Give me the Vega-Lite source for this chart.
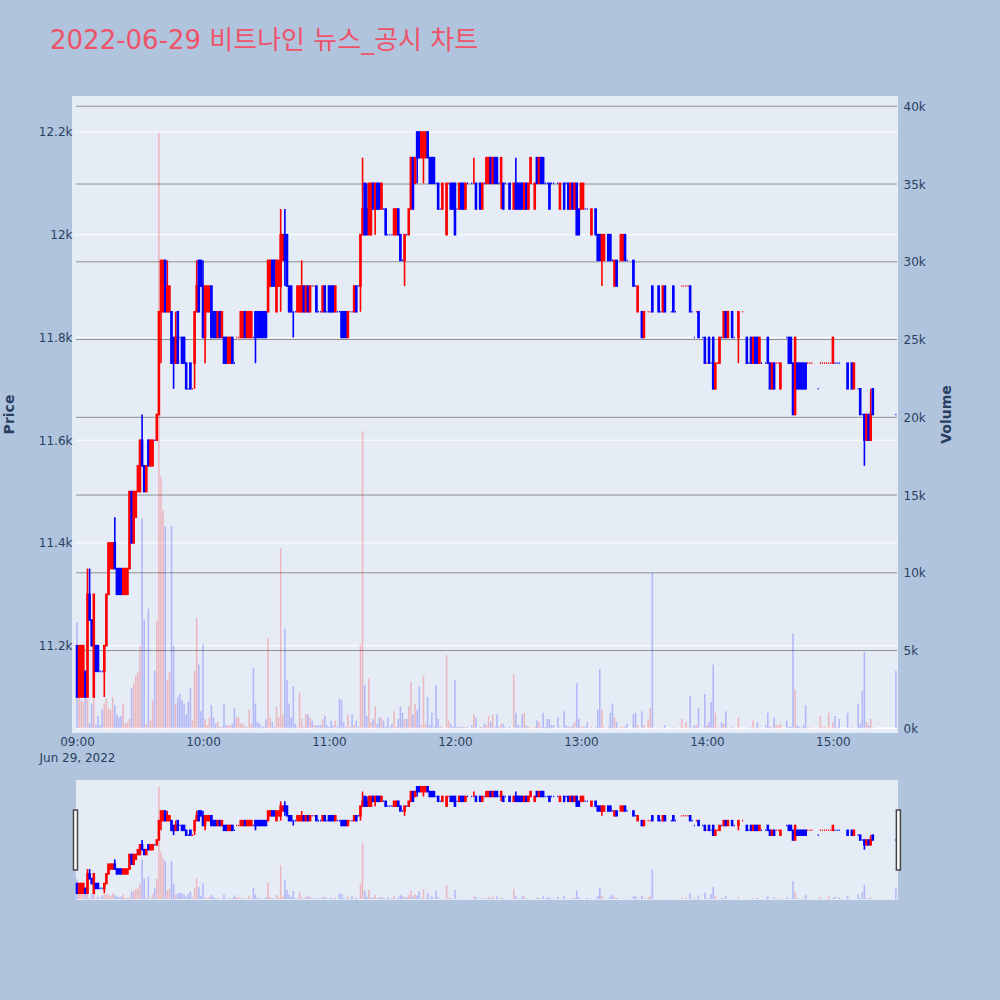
{"$schema":"https://vega.github.io/schema/vega-lite/v6.json","autosize":{"type":"none"},"padding":{"left":72,"top":96,"right":928,"bottom":904},"background":"#b0c4de","bounds":"flush","spacing":47,"config":{"font":"DejaVu Sans","view":{"stroke":null},"axis":{"labelFont":"DejaVu Sans","titleFont":"DejaVu Sans","labelColor":"#2a3f5f","titleColor":"#2a3f5f"}},
"datasets":{"bars":[
{"t":"2022-06-29 09:00","o":11200,"h":11200,"l":11100,"c":11100,"v":6800,"s":"d"},
{"t":"2022-06-29 09:01","o":11100,"h":11200,"l":11100,"c":11200,"v":2200,"s":"u"},
{"t":"2022-06-29 09:02","o":11100,"h":11200,"l":11100,"c":11200,"v":1800,"s":"u"},
{"t":"2022-06-29 09:03","o":11100,"h":11200,"l":11100,"c":11200,"v":1700,"s":"u"},
{"t":"2022-06-29 09:04","o":11150,"h":11150,"l":11100,"c":11100,"v":2000,"s":"d"},
{"t":"2022-06-29 09:05","o":11100,"h":11350,"l":11100,"c":11300,"v":1900,"s":"u"},
{"t":"2022-06-29 09:06","o":11300,"h":11350,"l":11250,"c":11250,"v":300,"s":"d"},
{"t":"2022-06-29 09:07","o":11250,"h":11250,"l":11200,"c":11200,"v":1600,"s":"d"},
{"t":"2022-06-29 09:08","o":11100,"h":11300,"l":11100,"c":11300,"v":2000,"s":"u"},
{"t":"2022-06-29 09:09","o":11200,"h":11200,"l":11150,"c":11150,"v":200,"s":"d"},
{"t":"2022-06-29 09:10","o":11200,"h":11200,"l":11150,"c":11150,"v":800,"s":"d"},
{"t":"2022-06-29 09:11","o":11150,"h":11150,"l":11150,"c":11150,"v":200,"s":"d"},
{"t":"2022-06-29 09:12","o":11150,"h":11150,"l":11150,"c":11150,"v":1200,"s":"d"},
{"t":"2022-06-29 09:13","o":11150,"h":11200,"l":11100,"c":11200,"v":1600,"s":"u"},
{"t":"2022-06-29 09:14","o":11200,"h":11300,"l":11200,"c":11300,"v":1900,"s":"u"},
{"t":"2022-06-29 09:15","o":11300,"h":11400,"l":11300,"c":11400,"v":1300,"s":"u"},
{"t":"2022-06-29 09:16","o":11350,"h":11400,"l":11350,"c":11400,"v":1200,"s":"u"},
{"t":"2022-06-29 09:17","o":11350,"h":11400,"l":11350,"c":11400,"v":2000,"s":"u"},
{"t":"2022-06-29 09:18","o":11400,"h":11450,"l":11350,"c":11350,"v":1500,"s":"d"},
{"t":"2022-06-29 09:19","o":11350,"h":11350,"l":11300,"c":11300,"v":900,"s":"d"},
{"t":"2022-06-29 09:20","o":11350,"h":11350,"l":11300,"c":11300,"v":700,"s":"d"},
{"t":"2022-06-29 09:21","o":11350,"h":11350,"l":11300,"c":11300,"v":800,"s":"d"},
{"t":"2022-06-29 09:22","o":11300,"h":11350,"l":11300,"c":11350,"v":1600,"s":"u"},
{"t":"2022-06-29 09:23","o":11300,"h":11350,"l":11300,"c":11350,"v":300,"s":"u"},
{"t":"2022-06-29 09:24","o":11300,"h":11350,"l":11300,"c":11350,"v":400,"s":"u"},
{"t":"2022-06-29 09:25","o":11350,"h":11500,"l":11350,"c":11500,"v":600,"s":"u"},
{"t":"2022-06-29 09:26","o":11500,"h":11500,"l":11400,"c":11400,"v":2600,"s":"d"},
{"t":"2022-06-29 09:27","o":11400,"h":11500,"l":11400,"c":11500,"v":2900,"s":"u"},
{"t":"2022-06-29 09:28","o":11450,"h":11500,"l":11450,"c":11500,"v":3400,"s":"u"},
{"t":"2022-06-29 09:29","o":11500,"h":11550,"l":11500,"c":11550,"v":3600,"s":"u"},
{"t":"2022-06-29 09:30","o":11500,"h":11600,"l":11500,"c":11600,"v":5300,"s":"u"},
{"t":"2022-06-29 09:31","o":11600,"h":11650,"l":11550,"c":11550,"v":13500,"s":"d"},
{"t":"2022-06-29 09:32","o":11550,"h":11550,"l":11500,"c":11500,"v":7000,"s":"d"},
{"t":"2022-06-29 09:33","o":11500,"h":11550,"l":11500,"c":11550,"v":300,"s":"u"},
{"t":"2022-06-29 09:34","o":11550,"h":11600,"l":11550,"c":11600,"v":7700,"s":"d"},
{"t":"2022-06-29 09:35","o":11550,"h":11600,"l":11550,"c":11600,"v":500,"s":"u"},
{"t":"2022-06-29 09:36","o":11550,"h":11600,"l":11550,"c":11600,"v":1800,"s":"u"},
{"t":"2022-06-29 09:37","o":11600,"h":11600,"l":11600,"c":11600,"v":3700,"s":"d"},
{"t":"2022-06-29 09:38","o":11600,"h":11650,"l":11600,"c":11650,"v":6900,"s":"u"},
{"t":"2022-06-29 09:39","o":11650,"h":11850,"l":11650,"c":11850,"v":38300,"s":"u"},
{"t":"2022-06-29 09:40","o":11850,"h":11950,"l":11750,"c":11950,"v":16200,"s":"u"},
{"t":"2022-06-29 09:41","o":11850,"h":11950,"l":11850,"c":11950,"v":14000,"s":"u"},
{"t":"2022-06-29 09:42","o":11950,"h":11950,"l":11850,"c":11850,"v":13000,"s":"d"},
{"t":"2022-06-29 09:43","o":11850,"h":11950,"l":11850,"c":11900,"v":3100,"s":"u"},
{"t":"2022-06-29 09:44","o":11850,"h":11900,"l":11850,"c":11900,"v":3600,"s":"u"},
{"t":"2022-06-29 09:45","o":11850,"h":11850,"l":11750,"c":11750,"v":13000,"s":"d"},
{"t":"2022-06-29 09:46","o":11800,"h":11800,"l":11700,"c":11750,"v":5300,"s":"d"},
{"t":"2022-06-29 09:47","o":11750,"h":11850,"l":11750,"c":11800,"v":1600,"s":"u"},
{"t":"2022-06-29 09:48","o":11850,"h":11850,"l":11750,"c":11750,"v":2000,"s":"d"},
{"t":"2022-06-29 09:49","o":11800,"h":11800,"l":11800,"c":11800,"v":2200,"s":"d"},
{"t":"2022-06-29 09:50","o":11800,"h":11800,"l":11750,"c":11750,"v":1800,"s":"d"},
{"t":"2022-06-29 09:51","o":11800,"h":11800,"l":11750,"c":11750,"v":1600,"s":"d"},
{"t":"2022-06-29 09:52","o":11750,"h":11750,"l":11700,"c":11700,"v":900,"s":"d"},
{"t":"2022-06-29 09:53","o":11700,"h":11700,"l":11700,"c":11700,"v":1700,"s":"d"},
{"t":"2022-06-29 09:54","o":11750,"h":11750,"l":11700,"c":11700,"v":2600,"s":"d"},
{"t":"2022-06-29 09:55","o":11700,"h":11700,"l":11700,"c":11700,"v":500,"s":"u"},
{"t":"2022-06-29 09:56","o":11750,"h":11850,"l":11700,"c":11850,"v":3700,"s":"u"},
{"t":"2022-06-29 09:57","o":11850,"h":11950,"l":11850,"c":11900,"v":7100,"s":"u"},
{"t":"2022-06-29 09:58","o":11950,"h":11950,"l":11850,"c":11850,"v":4100,"s":"d"},
{"t":"2022-06-29 09:59","o":11950,"h":11950,"l":11900,"c":11900,"v":1100,"s":"d"},
{"t":"2022-06-29 10:00","o":11900,"h":11950,"l":11800,"c":11800,"v":5400,"s":"d"},
{"t":"2022-06-29 10:01","o":11800,"h":11900,"l":11750,"c":11900,"v":600,"s":"u"},
{"t":"2022-06-29 10:02","o":11850,"h":11900,"l":11850,"c":11900,"v":200,"s":"u"},
{"t":"2022-06-29 10:03","o":11850,"h":11900,"l":11850,"c":11900,"v":700,"s":"u"},
{"t":"2022-06-29 10:04","o":11900,"h":11900,"l":11800,"c":11800,"v":1500,"s":"d"},
{"t":"2022-06-29 10:05","o":11850,"h":11850,"l":11800,"c":11800,"v":700,"s":"d"},
{"t":"2022-06-29 10:06","o":11850,"h":11850,"l":11800,"c":11800,"v":300,"s":"d"},
{"t":"2022-06-29 10:07","o":11800,"h":11850,"l":11800,"c":11850,"v":400,"s":"u"},
{"t":"2022-06-29 10:08","o":11850,"h":11850,"l":11800,"c":11800,"v":100,"s":"d"},
{"t":"2022-06-29 10:09","o":11800,"h":11850,"l":11800,"c":11850,"v":100,"s":"u"},
{"t":"2022-06-29 10:10","o":11800,"h":11800,"l":11750,"c":11750,"v":1600,"s":"d"},
{"t":"2022-06-29 10:11","o":11800,"h":11800,"l":11750,"c":11750,"v":200,"s":"d"},
{"t":"2022-06-29 10:12","o":11750,"h":11800,"l":11750,"c":11800,"v":200,"s":"u"},
{"t":"2022-06-29 10:13","o":11750,"h":11800,"l":11750,"c":11800,"v":200,"s":"u"},
{"t":"2022-06-29 10:14","o":11800,"h":11800,"l":11750,"c":11750,"v":300,"s":"d"},
{"t":"2022-06-29 10:15","o":11750,"h":11750,"l":11750,"c":11750,"v":1300,"s":"d"},
{"t":"2022-06-29 10:16","o":11800,"h":11800,"l":11800,"c":11800,"v":700,"s":"u"},
{"t":"2022-06-29 10:17","o":11800,"h":11800,"l":11800,"c":11800,"v":700,"s":"u"},
{"t":"2022-06-29 10:18","o":11800,"h":11850,"l":11800,"c":11850,"v":300,"s":"u"},
{"t":"2022-06-29 10:19","o":11800,"h":11850,"l":11800,"c":11850,"v":300,"s":"u"},
{"t":"2022-06-29 10:20","o":11850,"h":11850,"l":11800,"c":11800,"v":100,"s":"d"},
{"t":"2022-06-29 10:21","o":11800,"h":11850,"l":11800,"c":11850,"v":100,"s":"u"},
{"t":"2022-06-29 10:22","o":11800,"h":11850,"l":11800,"c":11850,"v":1200,"s":"u"},
{"t":"2022-06-29 10:23","o":11800,"h":11850,"l":11800,"c":11850,"v":300,"s":"u"},
{"t":"2022-06-29 10:24","o":11800,"h":11800,"l":11800,"c":11800,"v":3900,"s":"d"},
{"t":"2022-06-29 10:25","o":11850,"h":11850,"l":11750,"c":11800,"v":1600,"s":"d"},
{"t":"2022-06-29 10:26","o":11850,"h":11850,"l":11800,"c":11800,"v":400,"s":"d"},
{"t":"2022-06-29 10:27","o":11850,"h":11850,"l":11800,"c":11800,"v":300,"s":"d"},
{"t":"2022-06-29 10:28","o":11850,"h":11850,"l":11800,"c":11800,"v":100,"s":"d"},
{"t":"2022-06-29 10:29","o":11850,"h":11850,"l":11800,"c":11800,"v":100,"s":"d"},
{"t":"2022-06-29 10:30","o":11850,"h":11850,"l":11800,"c":11800,"v":600,"s":"d"},
{"t":"2022-06-29 10:31","o":11850,"h":11950,"l":11850,"c":11950,"v":5800,"s":"u"},
{"t":"2022-06-29 10:32","o":11900,"h":11950,"l":11900,"c":11950,"v":700,"s":"u"},
{"t":"2022-06-29 10:33","o":11950,"h":11950,"l":11900,"c":11900,"v":400,"s":"d"},
{"t":"2022-06-29 10:34","o":11950,"h":11950,"l":11900,"c":11900,"v":100,"s":"d"},
{"t":"2022-06-29 10:35","o":11850,"h":11950,"l":11850,"c":11950,"v":1400,"s":"u"},
{"t":"2022-06-29 10:36","o":11900,"h":11950,"l":11900,"c":11950,"v":700,"s":"u"},
{"t":"2022-06-29 10:37","o":11900,"h":12050,"l":11850,"c":12000,"v":11600,"s":"u"},
{"t":"2022-06-29 10:38","o":11950,"h":12000,"l":11950,"c":12000,"v":900,"s":"u"},
{"t":"2022-06-29 10:39","o":11950,"h":12050,"l":11900,"c":12000,"v":6400,"s":"d"},
{"t":"2022-06-29 10:40","o":12000,"h":12000,"l":11900,"c":11900,"v":3100,"s":"d"},
{"t":"2022-06-29 10:41","o":11900,"h":11900,"l":11850,"c":11850,"v":1600,"s":"d"},
{"t":"2022-06-29 10:42","o":11900,"h":11900,"l":11850,"c":11850,"v":700,"s":"d"},
{"t":"2022-06-29 10:43","o":11850,"h":11850,"l":11800,"c":11850,"v":2700,"s":"d"},
{"t":"2022-06-29 10:44","o":11850,"h":11850,"l":11850,"c":11850,"v":300,"s":"d"},
{"t":"2022-06-29 10:45","o":11850,"h":11900,"l":11850,"c":11900,"v":100,"s":"u"},
{"t":"2022-06-29 10:46","o":11850,"h":11900,"l":11850,"c":11900,"v":2300,"s":"u"},
{"t":"2022-06-29 10:47","o":11850,"h":11950,"l":11850,"c":11900,"v":600,"s":"u"},
{"t":"2022-06-29 10:48","o":11900,"h":11900,"l":11850,"c":11850,"v":100,"s":"d"},
{"t":"2022-06-29 10:49","o":11850,"h":11900,"l":11850,"c":11900,"v":900,"s":"u"},
{"t":"2022-06-29 10:50","o":11900,"h":11900,"l":11850,"c":11850,"v":900,"s":"d"},
{"t":"2022-06-29 10:51","o":11850,"h":11900,"l":11850,"c":11900,"v":700,"s":"u"},
{"t":"2022-06-29 10:52","o":11900,"h":11900,"l":11900,"c":11900,"v":500,"s":"d"},
{"t":"2022-06-29 10:53","o":11900,"h":11900,"l":11900,"c":11900,"v":200,"s":"u"},
{"t":"2022-06-29 10:54","o":11900,"h":11900,"l":11850,"c":11850,"v":200,"s":"d"},
{"t":"2022-06-29 10:55","o":11850,"h":11850,"l":11850,"c":11850,"v":200,"s":"d"},
{"t":"2022-06-29 10:56","o":11850,"h":11850,"l":11850,"c":11850,"v":200,"s":"d"},
{"t":"2022-06-29 10:57","o":11850,"h":11900,"l":11850,"c":11900,"v":600,"s":"u"},
{"t":"2022-06-29 10:58","o":11900,"h":11900,"l":11850,"c":11850,"v":800,"s":"d"},
{"t":"2022-06-29 10:59","o":11850,"h":11850,"l":11850,"c":11850,"v":200,"s":"d"},
{"t":"2022-06-29 11:00","o":11900,"h":11900,"l":11850,"c":11850,"v":100,"s":"d"},
{"t":"2022-06-29 11:01","o":11900,"h":11900,"l":11850,"c":11850,"v":500,"s":"d"},
{"t":"2022-06-29 11:02","o":11900,"h":11900,"l":11850,"c":11850,"v":200,"s":"d"},
{"t":"2022-06-29 11:03","o":11850,"h":11900,"l":11850,"c":11900,"v":500,"s":"u"},
{"t":"2022-06-29 11:04","o":11850,"h":11850,"l":11850,"c":11850,"v":100,"s":"d"},
{"t":"2022-06-29 11:05","o":11850,"h":11850,"l":11850,"c":11850,"v":1900,"s":"d"},
{"t":"2022-06-29 11:06","o":11850,"h":11850,"l":11800,"c":11800,"v":1800,"s":"d"},
{"t":"2022-06-29 11:07","o":11850,"h":11850,"l":11800,"c":11800,"v":400,"s":"d"},
{"t":"2022-06-29 11:08","o":11850,"h":11850,"l":11800,"c":11800,"v":100,"s":"d"},
{"t":"2022-06-29 11:09","o":11800,"h":11850,"l":11800,"c":11850,"v":900,"s":"u"},
{"t":"2022-06-29 11:10","o":11850,"h":11850,"l":11850,"c":11850,"v":100,"s":"u"},
{"t":"2022-06-29 11:11","o":11850,"h":11850,"l":11850,"c":11850,"v":900,"s":"d"},
{"t":"2022-06-29 11:12","o":11850,"h":11900,"l":11850,"c":11900,"v":200,"s":"u"},
{"t":"2022-06-29 11:13","o":11900,"h":11900,"l":11850,"c":11850,"v":500,"s":"d"},
{"t":"2022-06-29 11:14","o":11900,"h":11900,"l":11900,"c":11900,"v":100,"s":"d"},
{"t":"2022-06-29 11:15","o":11900,"h":12000,"l":11850,"c":12000,"v":5400,"s":"u"},
{"t":"2022-06-29 11:16","o":12000,"h":12150,"l":12000,"c":12050,"v":19100,"s":"u"},
{"t":"2022-06-29 11:17","o":12100,"h":12100,"l":12000,"c":12000,"v":2800,"s":"d"},
{"t":"2022-06-29 11:18","o":12050,"h":12100,"l":12000,"c":12000,"v":800,"s":"d"},
{"t":"2022-06-29 11:19","o":12000,"h":12100,"l":12000,"c":12100,"v":3200,"s":"u"},
{"t":"2022-06-29 11:20","o":12000,"h":12100,"l":12000,"c":12100,"v":400,"s":"u"},
{"t":"2022-06-29 11:21","o":12100,"h":12100,"l":12050,"c":12050,"v":600,"s":"d"},
{"t":"2022-06-29 11:22","o":12050,"h":12100,"l":12000,"c":12100,"v":1400,"s":"u"},
{"t":"2022-06-29 11:23","o":12100,"h":12100,"l":12050,"c":12050,"v":300,"s":"d"},
{"t":"2022-06-29 11:24","o":12100,"h":12100,"l":12050,"c":12050,"v":700,"s":"d"},
{"t":"2022-06-29 11:25","o":12050,"h":12100,"l":12050,"c":12100,"v":700,"s":"u"},
{"t":"2022-06-29 11:26","o":12050,"h":12050,"l":12050,"c":12050,"v":500,"s":"d"},
{"t":"2022-06-29 11:27","o":12050,"h":12050,"l":12000,"c":12000,"v":100,"s":"d"},
{"t":"2022-06-29 11:28","o":12000,"h":12000,"l":12000,"c":12000,"v":700,"s":"d"},
{"t":"2022-06-29 11:29","o":12000,"h":12000,"l":12000,"c":12000,"v":100,"s":"d"},
{"t":"2022-06-29 11:30","o":12000,"h":12000,"l":12000,"c":12000,"v":300,"s":"d"},
{"t":"2022-06-29 11:31","o":12000,"h":12050,"l":12000,"c":12050,"v":1100,"s":"u"},
{"t":"2022-06-29 11:32","o":12000,"h":12050,"l":12000,"c":12050,"v":100,"s":"u"},
{"t":"2022-06-29 11:33","o":12050,"h":12050,"l":12000,"c":12000,"v":600,"s":"d"},
{"t":"2022-06-29 11:34","o":12000,"h":12000,"l":11950,"c":11950,"v":1400,"s":"d"},
{"t":"2022-06-29 11:35","o":11950,"h":11950,"l":11950,"c":11950,"v":1000,"s":"d"},
{"t":"2022-06-29 11:36","o":11950,"h":12000,"l":11900,"c":12000,"v":600,"s":"u"},
{"t":"2022-06-29 11:37","o":12000,"h":12000,"l":12000,"c":12000,"v":600,"s":"d"},
{"t":"2022-06-29 11:38","o":12000,"h":12050,"l":12000,"c":12050,"v":1400,"s":"u"},
{"t":"2022-06-29 11:39","o":12050,"h":12150,"l":12050,"c":12150,"v":3000,"s":"u"},
{"t":"2022-06-29 11:40","o":12150,"h":12150,"l":12050,"c":12050,"v":900,"s":"d"},
{"t":"2022-06-29 11:41","o":12100,"h":12150,"l":12100,"c":12150,"v":1600,"s":"u"},
{"t":"2022-06-29 11:42","o":12200,"h":12200,"l":12100,"c":12150,"v":1200,"s":"d"},
{"t":"2022-06-29 11:43","o":12200,"h":12200,"l":12150,"c":12150,"v":2700,"s":"d"},
{"t":"2022-06-29 11:44","o":12150,"h":12200,"l":12150,"c":12200,"v":200,"s":"u"},
{"t":"2022-06-29 11:45","o":12150,"h":12200,"l":12100,"c":12200,"v":3400,"s":"u"},
{"t":"2022-06-29 11:46","o":12150,"h":12200,"l":12150,"c":12200,"v":300,"s":"u"},
{"t":"2022-06-29 11:47","o":12200,"h":12200,"l":12150,"c":12150,"v":2000,"s":"d"},
{"t":"2022-06-29 11:48","o":12150,"h":12150,"l":12100,"c":12100,"v":200,"s":"d"},
{"t":"2022-06-29 11:49","o":12150,"h":12150,"l":12100,"c":12100,"v":1000,"s":"d"},
{"t":"2022-06-29 11:50","o":12150,"h":12150,"l":12100,"c":12100,"v":100,"s":"d"},
{"t":"2022-06-29 11:51","o":12100,"h":12100,"l":12100,"c":12100,"v":2800,"s":"d"},
{"t":"2022-06-29 11:52","o":12100,"h":12100,"l":12050,"c":12050,"v":600,"s":"d"},
{"t":"2022-06-29 11:53","o":12050,"h":12050,"l":12050,"c":12050,"v":100,"s":"d"},
{"t":"2022-06-29 11:54","o":12050,"h":12100,"l":12050,"c":12100,"v":100,"s":"u"},
{"t":"2022-06-29 11:56","o":12000,"h":12100,"l":12000,"c":12100,"v":4700,"s":"u"},
{"t":"2022-06-29 11:57","o":12100,"h":12100,"l":12100,"c":12100,"v":500,"s":"u"},
{"t":"2022-06-29 11:58","o":12100,"h":12100,"l":12050,"c":12050,"v":300,"s":"d"},
{"t":"2022-06-29 11:59","o":12100,"h":12100,"l":12050,"c":12050,"v":100,"s":"d"},
{"t":"2022-06-29 12:00","o":12100,"h":12100,"l":12000,"c":12000,"v":3100,"s":"d"},
{"t":"2022-06-29 12:01","o":12050,"h":12050,"l":12050,"c":12050,"v":100,"s":"d"},
{"t":"2022-06-29 12:02","o":12050,"h":12100,"l":12050,"c":12100,"v":100,"s":"u"},
{"t":"2022-06-29 12:03","o":12100,"h":12100,"l":12050,"c":12050,"v":100,"s":"d"},
{"t":"2022-06-29 12:04","o":12100,"h":12100,"l":12050,"c":12050,"v":100,"s":"d"},
{"t":"2022-06-29 12:05","o":12050,"h":12100,"l":12050,"c":12100,"v":100,"s":"u"},
{"t":"2022-06-29 12:06","o":12100,"h":12100,"l":12100,"c":12100,"v":100,"s":"d"},
{"t":"2022-06-29 12:08","o":12100,"h":12100,"l":12100,"c":12100,"v":200,"s":"d"},
{"t":"2022-06-29 12:09","o":12100,"h":12150,"l":12100,"c":12100,"v":900,"s":"u"},
{"t":"2022-06-29 12:10","o":12100,"h":12100,"l":12050,"c":12050,"v":700,"s":"d"},
{"t":"2022-06-29 12:12","o":12100,"h":12100,"l":12050,"c":12050,"v":100,"s":"d"},
{"t":"2022-06-29 12:13","o":12050,"h":12100,"l":12050,"c":12100,"v":100,"s":"u"},
{"t":"2022-06-29 12:14","o":12100,"h":12100,"l":12100,"c":12100,"v":300,"s":"d"},
{"t":"2022-06-29 12:15","o":12100,"h":12150,"l":12100,"c":12150,"v":200,"s":"u"},
{"t":"2022-06-29 12:16","o":12100,"h":12150,"l":12100,"c":12150,"v":800,"s":"u"},
{"t":"2022-06-29 12:17","o":12150,"h":12150,"l":12100,"c":12100,"v":400,"s":"d"},
{"t":"2022-06-29 12:18","o":12100,"h":12150,"l":12100,"c":12150,"v":900,"s":"u"},
{"t":"2022-06-29 12:19","o":12150,"h":12150,"l":12100,"c":12100,"v":100,"s":"d"},
{"t":"2022-06-29 12:20","o":12150,"h":12150,"l":12100,"c":12100,"v":900,"s":"d"},
{"t":"2022-06-29 12:21","o":12100,"h":12100,"l":12100,"c":12100,"v":100,"s":"d"},
{"t":"2022-06-29 12:22","o":12100,"h":12150,"l":12050,"c":12150,"v":300,"s":"u"},
{"t":"2022-06-29 12:23","o":12100,"h":12100,"l":12050,"c":12050,"v":300,"s":"d"},
{"t":"2022-06-29 12:24","o":12100,"h":12100,"l":12100,"c":12100,"v":100,"s":"d"},
{"t":"2022-06-29 12:26","o":12100,"h":12100,"l":12050,"c":12050,"v":100,"s":"d"},
{"t":"2022-06-29 12:28","o":12050,"h":12100,"l":12050,"c":12100,"v":3500,"s":"u"},
{"t":"2022-06-29 12:29","o":12100,"h":12150,"l":12050,"c":12050,"v":1000,"s":"d"},
{"t":"2022-06-29 12:30","o":12100,"h":12100,"l":12050,"c":12050,"v":200,"s":"d"},
{"t":"2022-06-29 12:31","o":12100,"h":12100,"l":12050,"c":12050,"v":100,"s":"d"},
{"t":"2022-06-29 12:32","o":12100,"h":12100,"l":12050,"c":12050,"v":900,"s":"d"},
{"t":"2022-06-29 12:33","o":12050,"h":12100,"l":12050,"c":12100,"v":1000,"s":"u"},
{"t":"2022-06-29 12:34","o":12100,"h":12100,"l":12050,"c":12050,"v":200,"s":"d"},
{"t":"2022-06-29 12:35","o":12050,"h":12100,"l":12050,"c":12100,"v":100,"s":"u"},
{"t":"2022-06-29 12:36","o":12100,"h":12150,"l":12100,"c":12150,"v":100,"s":"u"},
{"t":"2022-06-29 12:38","o":12050,"h":12100,"l":12050,"c":12100,"v":100,"s":"u"},
{"t":"2022-06-29 12:39","o":12150,"h":12150,"l":12100,"c":12100,"v":500,"s":"d"},
{"t":"2022-06-29 12:40","o":12100,"h":12150,"l":12100,"c":12150,"v":400,"s":"u"},
{"t":"2022-06-29 12:41","o":12150,"h":12150,"l":12100,"c":12100,"v":100,"s":"d"},
{"t":"2022-06-29 12:42","o":12150,"h":12150,"l":12100,"c":12100,"v":1000,"s":"d"},
{"t":"2022-06-29 12:43","o":12100,"h":12100,"l":12100,"c":12100,"v":100,"s":"d"},
{"t":"2022-06-29 12:44","o":12100,"h":12100,"l":12100,"c":12100,"v":600,"s":"d"},
{"t":"2022-06-29 12:45","o":12100,"h":12100,"l":12050,"c":12050,"v":600,"s":"d"},
{"t":"2022-06-29 12:46","o":12100,"h":12100,"l":12100,"c":12100,"v":200,"s":"d"},
{"t":"2022-06-29 12:47","o":12100,"h":12100,"l":12100,"c":12100,"v":200,"s":"d"},
{"t":"2022-06-29 12:49","o":12100,"h":12100,"l":12100,"c":12100,"v":700,"s":"d"},
{"t":"2022-06-29 12:50","o":12050,"h":12100,"l":12050,"c":12100,"v":100,"s":"u"},
{"t":"2022-06-29 12:52","o":12100,"h":12100,"l":12050,"c":12050,"v":1100,"s":"d"},
{"t":"2022-06-29 12:53","o":12100,"h":12100,"l":12100,"c":12100,"v":200,"s":"d"},
{"t":"2022-06-29 12:54","o":12100,"h":12100,"l":12050,"c":12050,"v":100,"s":"d"},
{"t":"2022-06-29 12:55","o":12050,"h":12100,"l":12050,"c":12100,"v":100,"s":"u"},
{"t":"2022-06-29 12:56","o":12100,"h":12100,"l":12050,"c":12050,"v":200,"s":"d"},
{"t":"2022-06-29 12:57","o":12050,"h":12100,"l":12050,"c":12100,"v":400,"s":"u"},
{"t":"2022-06-29 12:58","o":12100,"h":12100,"l":12000,"c":12000,"v":2900,"s":"d"},
{"t":"2022-06-29 12:59","o":12050,"h":12050,"l":12000,"c":12000,"v":600,"s":"d"},
{"t":"2022-06-29 13:00","o":12050,"h":12100,"l":12050,"c":12100,"v":100,"s":"u"},
{"t":"2022-06-29 13:01","o":12050,"h":12100,"l":12050,"c":12100,"v":100,"s":"u"},
{"t":"2022-06-29 13:02","o":12050,"h":12050,"l":12050,"c":12050,"v":100,"s":"d"},
{"t":"2022-06-29 13:03","o":12050,"h":12050,"l":12050,"c":12050,"v":400,"s":"d"},
{"t":"2022-06-29 13:05","o":12000,"h":12050,"l":12000,"c":12050,"v":100,"s":"u"},
{"t":"2022-06-29 13:07","o":12050,"h":12050,"l":12000,"c":12000,"v":100,"s":"d"},
{"t":"2022-06-29 13:08","o":12000,"h":12000,"l":11950,"c":11950,"v":1200,"s":"d"},
{"t":"2022-06-29 13:09","o":12000,"h":12000,"l":11950,"c":11950,"v":3800,"s":"d"},
{"t":"2022-06-29 13:10","o":11950,"h":12000,"l":11900,"c":12000,"v":1200,"s":"u"},
{"t":"2022-06-29 13:11","o":11950,"h":12000,"l":11950,"c":12000,"v":100,"s":"u"},
{"t":"2022-06-29 13:13","o":12000,"h":12000,"l":11950,"c":11950,"v":100,"s":"d"},
{"t":"2022-06-29 13:14","o":12000,"h":12000,"l":11950,"c":11950,"v":1000,"s":"d"},
{"t":"2022-06-29 13:15","o":11950,"h":11950,"l":11950,"c":11950,"v":1600,"s":"d"},
{"t":"2022-06-29 13:16","o":11900,"h":11950,"l":11900,"c":11950,"v":700,"s":"u"},
{"t":"2022-06-29 13:17","o":11950,"h":11950,"l":11900,"c":11900,"v":400,"s":"d"},
{"t":"2022-06-29 13:19","o":11950,"h":12000,"l":11950,"c":12000,"v":100,"s":"u"},
{"t":"2022-06-29 13:20","o":11950,"h":12000,"l":11950,"c":12000,"v":100,"s":"u"},
{"t":"2022-06-29 13:21","o":12000,"h":12000,"l":11950,"c":11950,"v":100,"s":"d"},
{"t":"2022-06-29 13:22","o":11950,"h":11950,"l":11950,"c":11950,"v":300,"s":"d"},
{"t":"2022-06-29 13:25","o":11950,"h":11950,"l":11900,"c":11900,"v":900,"s":"d"},
{"t":"2022-06-29 13:26","o":11900,"h":11900,"l":11900,"c":11900,"v":1000,"s":"d"},
{"t":"2022-06-29 13:27","o":11850,"h":11900,"l":11850,"c":11900,"v":200,"s":"u"},
{"t":"2022-06-29 13:29","o":11850,"h":11850,"l":11800,"c":11800,"v":1100,"s":"d"},
{"t":"2022-06-29 13:30","o":11800,"h":11850,"l":11800,"c":11850,"v":200,"s":"u"},
{"t":"2022-06-29 13:32","o":11850,"h":11850,"l":11850,"c":11850,"v":600,"s":"u"},
{"t":"2022-06-29 13:33","o":11850,"h":11850,"l":11850,"c":11850,"v":1300,"s":"u"},
{"t":"2022-06-29 13:34","o":11900,"h":11900,"l":11850,"c":11850,"v":10000,"s":"d"},
{"t":"2022-06-29 13:37","o":11900,"h":11900,"l":11850,"c":11850,"v":50,"s":"d"},
{"t":"2022-06-29 13:38","o":11850,"h":11850,"l":11850,"c":11850,"v":50,"s":"d"},
{"t":"2022-06-29 13:39","o":11850,"h":11900,"l":11850,"c":11900,"v":50,"s":"u"},
{"t":"2022-06-29 13:40","o":11900,"h":11900,"l":11850,"c":11850,"v":200,"s":"d"},
{"t":"2022-06-29 13:43","o":11850,"h":11850,"l":11850,"c":11850,"v":50,"s":"d"},
{"t":"2022-06-29 13:44","o":11900,"h":11900,"l":11850,"c":11850,"v":50,"s":"d"},
{"t":"2022-06-29 13:45","o":11850,"h":11850,"l":11850,"c":11850,"v":50,"s":"d"},
{"t":"2022-06-29 13:48","o":11900,"h":11900,"l":11900,"c":11900,"v":600,"s":"u"},
{"t":"2022-06-29 13:49","o":11900,"h":11900,"l":11900,"c":11900,"v":50,"s":"u"},
{"t":"2022-06-29 13:50","o":11900,"h":11900,"l":11900,"c":11900,"v":400,"s":"u"},
{"t":"2022-06-29 13:51","o":11900,"h":11900,"l":11900,"c":11900,"v":50,"s":"u"},
{"t":"2022-06-29 13:52","o":11900,"h":11900,"l":11850,"c":11850,"v":2100,"s":"d"},
{"t":"2022-06-29 13:53","o":11850,"h":11850,"l":11850,"c":11850,"v":50,"s":"d"},
{"t":"2022-06-29 13:54","o":11800,"h":11800,"l":11800,"c":11800,"v":200,"s":"d"},
{"t":"2022-06-29 13:55","o":11850,"h":11850,"l":11850,"c":11850,"v":200,"s":"u"},
{"t":"2022-06-29 13:56","o":11850,"h":11850,"l":11800,"c":11800,"v":1300,"s":"d"},
{"t":"2022-06-29 13:58","o":11800,"h":11800,"l":11800,"c":11800,"v":50,"s":"d"},
{"t":"2022-06-29 13:59","o":11800,"h":11800,"l":11750,"c":11750,"v":2200,"s":"d"},
{"t":"2022-06-29 14:00","o":11750,"h":11750,"l":11750,"c":11750,"v":200,"s":"u"},
{"t":"2022-06-29 14:01","o":11800,"h":11800,"l":11750,"c":11750,"v":400,"s":"d"},
{"t":"2022-06-29 14:02","o":11750,"h":11750,"l":11750,"c":11750,"v":1700,"s":"d"},
{"t":"2022-06-29 14:03","o":11800,"h":11800,"l":11700,"c":11700,"v":4100,"s":"d"},
{"t":"2022-06-29 14:04","o":11700,"h":11750,"l":11700,"c":11750,"v":1000,"s":"u"},
{"t":"2022-06-29 14:05","o":11750,"h":11750,"l":11750,"c":11750,"v":50,"s":"u"},
{"t":"2022-06-29 14:06","o":11750,"h":11800,"l":11750,"c":11800,"v":50,"s":"u"},
{"t":"2022-06-29 14:07","o":11800,"h":11800,"l":11800,"c":11800,"v":400,"s":"d"},
{"t":"2022-06-29 14:08","o":11800,"h":11850,"l":11800,"c":11850,"v":300,"s":"u"},
{"t":"2022-06-29 14:09","o":11850,"h":11850,"l":11800,"c":11800,"v":1100,"s":"d"},
{"t":"2022-06-29 14:10","o":11800,"h":11850,"l":11800,"c":11850,"v":50,"s":"u"},
{"t":"2022-06-29 14:12","o":11850,"h":11850,"l":11800,"c":11800,"v":100,"s":"d"},
{"t":"2022-06-29 14:13","o":11800,"h":11800,"l":11800,"c":11800,"v":50,"s":"d"},
{"t":"2022-06-29 14:15","o":11800,"h":11850,"l":11750,"c":11850,"v":700,"s":"u"},
{"t":"2022-06-29 14:17","o":11850,"h":11850,"l":11850,"c":11850,"v":50,"s":"u"},
{"t":"2022-06-29 14:19","o":11800,"h":11800,"l":11750,"c":11750,"v":50,"s":"d"},
{"t":"2022-06-29 14:20","o":11750,"h":11750,"l":11750,"c":11750,"v":50,"s":"d"},
{"t":"2022-06-29 14:21","o":11800,"h":11800,"l":11750,"c":11750,"v":50,"s":"d"},
{"t":"2022-06-29 14:22","o":11750,"h":11800,"l":11750,"c":11800,"v":500,"s":"u"},
{"t":"2022-06-29 14:23","o":11800,"h":11800,"l":11750,"c":11750,"v":50,"s":"d"},
{"t":"2022-06-29 14:24","o":11800,"h":11800,"l":11750,"c":11750,"v":400,"s":"d"},
{"t":"2022-06-29 14:25","o":11750,"h":11800,"l":11750,"c":11800,"v":50,"s":"u"},
{"t":"2022-06-29 14:26","o":11750,"h":11750,"l":11750,"c":11750,"v":50,"s":"d"},
{"t":"2022-06-29 14:28","o":11750,"h":11750,"l":11750,"c":11750,"v":200,"s":"d"},
{"t":"2022-06-29 14:29","o":11800,"h":11800,"l":11750,"c":11750,"v":1000,"s":"d"},
{"t":"2022-06-29 14:30","o":11750,"h":11750,"l":11700,"c":11700,"v":100,"s":"d"},
{"t":"2022-06-29 14:31","o":11700,"h":11750,"l":11700,"c":11750,"v":50,"s":"u"},
{"t":"2022-06-29 14:32","o":11750,"h":11750,"l":11700,"c":11700,"v":700,"s":"d"},
{"t":"2022-06-29 14:33","o":11750,"h":11750,"l":11750,"c":11750,"v":200,"s":"u"},
{"t":"2022-06-29 14:34","o":11750,"h":11750,"l":11750,"c":11750,"v":200,"s":"u"},
{"t":"2022-06-29 14:35","o":11700,"h":11750,"l":11700,"c":11750,"v":300,"s":"u"},
{"t":"2022-06-29 14:38","o":11800,"h":11800,"l":11800,"c":11800,"v":500,"s":"d"},
{"t":"2022-06-29 14:39","o":11800,"h":11800,"l":11750,"c":11750,"v":100,"s":"d"},
{"t":"2022-06-29 14:40","o":11800,"h":11800,"l":11750,"c":11750,"v":100,"s":"d"},
{"t":"2022-06-29 14:41","o":11750,"h":11750,"l":11650,"c":11650,"v":6100,"s":"d"},
{"t":"2022-06-29 14:42","o":11650,"h":11800,"l":11650,"c":11800,"v":2500,"s":"u"},
{"t":"2022-06-29 14:43","o":11750,"h":11750,"l":11700,"c":11700,"v":200,"s":"d"},
{"t":"2022-06-29 14:44","o":11750,"h":11750,"l":11700,"c":11700,"v":100,"s":"d"},
{"t":"2022-06-29 14:45","o":11750,"h":11750,"l":11700,"c":11700,"v":50,"s":"d"},
{"t":"2022-06-29 14:46","o":11750,"h":11750,"l":11700,"c":11700,"v":200,"s":"d"},
{"t":"2022-06-29 14:47","o":11750,"h":11750,"l":11700,"c":11700,"v":1500,"s":"d"},
{"t":"2022-06-29 14:48","o":11750,"h":11750,"l":11750,"c":11750,"v":50,"s":"u"},
{"t":"2022-06-29 14:49","o":11750,"h":11750,"l":11750,"c":11750,"v":50,"s":"u"},
{"t":"2022-06-29 14:50","o":11750,"h":11750,"l":11750,"c":11750,"v":50,"s":"u"},
{"t":"2022-06-29 14:53","o":11700,"h":11700,"l":11700,"c":11700,"v":50,"s":"d"},
{"t":"2022-06-29 14:54","o":11750,"h":11750,"l":11750,"c":11750,"v":800,"s":"u"},
{"t":"2022-06-29 14:55","o":11750,"h":11750,"l":11750,"c":11750,"v":100,"s":"u"},
{"t":"2022-06-29 14:56","o":11750,"h":11750,"l":11750,"c":11750,"v":100,"s":"u"},
{"t":"2022-06-29 14:57","o":11750,"h":11750,"l":11750,"c":11750,"v":50,"s":"u"},
{"t":"2022-06-29 14:58","o":11750,"h":11750,"l":11750,"c":11750,"v":1000,"s":"u"},
{"t":"2022-06-29 14:59","o":11750,"h":11750,"l":11750,"c":11750,"v":50,"s":"u"},
{"t":"2022-06-29 15:00","o":11750,"h":11800,"l":11750,"c":11800,"v":400,"s":"u"},
{"t":"2022-06-29 15:01","o":11750,"h":11750,"l":11750,"c":11750,"v":800,"s":"d"},
{"t":"2022-06-29 15:02","o":11750,"h":11750,"l":11750,"c":11750,"v":50,"s":"d"},
{"t":"2022-06-29 15:03","o":11750,"h":11750,"l":11750,"c":11750,"v":600,"s":"d"},
{"t":"2022-06-29 15:07","o":11750,"h":11750,"l":11700,"c":11700,"v":1000,"s":"d"},
{"t":"2022-06-29 15:09","o":11750,"h":11750,"l":11700,"c":11700,"v":50,"s":"d"},
{"t":"2022-06-29 15:10","o":11700,"h":11750,"l":11700,"c":11750,"v":50,"s":"u"},
{"t":"2022-06-29 15:12","o":11700,"h":11700,"l":11700,"c":11700,"v":1600,"s":"d"},
{"t":"2022-06-29 15:13","o":11700,"h":11700,"l":11650,"c":11650,"v":300,"s":"d"},
{"t":"2022-06-29 15:14","o":11650,"h":11650,"l":11650,"c":11650,"v":2400,"s":"d"},
{"t":"2022-06-29 15:15","o":11650,"h":11650,"l":11550,"c":11600,"v":4900,"s":"d"},
{"t":"2022-06-29 15:16","o":11600,"h":11650,"l":11600,"c":11650,"v":400,"s":"u"},
{"t":"2022-06-29 15:17","o":11650,"h":11650,"l":11600,"c":11600,"v":200,"s":"d"},
{"t":"2022-06-29 15:18","o":11600,"h":11700,"l":11600,"c":11650,"v":600,"s":"u"},
{"t":"2022-06-29 15:19","o":11700,"h":11700,"l":11650,"c":11650,"v":50,"s":"d"},
{"t":"2022-06-29 15:30","o":11650,"h":11650,"l":11650,"c":11650,"v":3700,"s":"d"}
],
"pgrid":[{"p":11200,"a":"2022-06-29 08:59:30","b":"2022-06-29 15:30:30"},{"p":11400,"a":"2022-06-29 08:59:30","b":"2022-06-29 15:30:30"},{"p":11600,"a":"2022-06-29 08:59:30","b":"2022-06-29 15:30:30"},{"p":11800,"a":"2022-06-29 08:59:30","b":"2022-06-29 15:30:30"},{"p":12000,"a":"2022-06-29 08:59:30","b":"2022-06-29 15:30:30"},{"p":12200,"a":"2022-06-29 08:59:30","b":"2022-06-29 15:30:30"}],
"vgrid":[{"q":0,"a":"2022-06-29 08:59:30","b":"2022-06-29 15:30:30"},{"q":5000,"a":"2022-06-29 08:59:30","b":"2022-06-29 15:30:30"},{"q":10000,"a":"2022-06-29 08:59:30","b":"2022-06-29 15:30:30"},{"q":15000,"a":"2022-06-29 08:59:30","b":"2022-06-29 15:30:30"},{"q":20000,"a":"2022-06-29 08:59:30","b":"2022-06-29 15:30:30"},{"q":25000,"a":"2022-06-29 08:59:30","b":"2022-06-29 15:30:30"},{"q":30000,"a":"2022-06-29 08:59:30","b":"2022-06-29 15:30:30"},{"q":35000,"a":"2022-06-29 08:59:30","b":"2022-06-29 15:30:30"},{"q":40000,"a":"2022-06-29 08:59:30","b":"2022-06-29 15:30:30"}],
"zero":[{"q":0,"a":"2022-06-29 08:59:30","b":"2022-06-29 15:30:30"}],
"panel":[{"a":"2022-06-29 08:59:30","b":"2022-06-29 15:31:00","y0":0,"y1":120}],
"grips":[{"a":"2022-06-29 08:58:20","b":"2022-06-29 09:00:14","y0":30,"y1":90},{"a":"2022-06-29 15:30:14","b":"2022-06-29 15:32:08","y0":30,"y1":90}]
},
"vconcat":[
{"width":826,"height":637,"view":{"fill":"#e5ecf6"},
"title":{"text":"2022-06-29 비트나인 뉴스_공시 차트","anchor":"start","frame":"group","dx":-22,"offset":42,"fontSize":26,"fontWeight":"normal","font":"DejaVu Sans, Noto Sans CJK KR","color":"#ef5369"},
"resolve":{"scale":{"y":"independent"},"axis":{"y":"independent"}},
"layer":[
{"data":{"name":"pgrid"},"mark":{"type":"rule","color":"#ffffff","strokeWidth":1},
"encoding":{"x":{"field":"a","type":"temporal","scale":{"padding":0,"domain":[{"year":2022,"month":6,"date":29,"hours":8,"minutes":57,"seconds":37},{"year":2022,"month":6,"date":29,"hours":15,"minutes":31}]},"axis":{"format":"%H:%M","values":[{"year":2022,"month":6,"date":29,"hours":9},{"year":2022,"month":6,"date":29,"hours":10},{"year":2022,"month":6,"date":29,"hours":11},{"year":2022,"month":6,"date":29,"hours":12},{"year":2022,"month":6,"date":29,"hours":13},{"year":2022,"month":6,"date":29,"hours":14},{"year":2022,"month":6,"date":29,"hours":15}],"grid":false,"domain":false,"ticks":false,"labelFontSize":12,"labelPadding":3,"labelOverlap":false,"labelFlush":false,"labelBound":false,"title":"Jun 29, 2022","titleFontSize":12,"titleFontWeight":"normal","titleX":5,"titleY":19}},"x2":{"field":"b"},
"y":{"field":"p","type":"quantitative","scale":{"domain":[11030,12270],"nice":false,"zero":false},"axis":{"title":"Price","titleFontSize":14,"titleFontWeight":"bold","titleAngle":270,"titleX":-63,"titleY":318,"titleBaseline":"middle","values":[11200,11400,11600,11800,12000,12200],"format":".3~s","grid":false,"domain":false,"ticks":false,"labelFontSize":12,"labelPadding":0}}}},
{"data":{"name":"vgrid"},"mark":{"type":"rule","color":"#8f8f8f","strokeWidth":1},
"encoding":{"x":{"field":"a","type":"temporal"},"x2":{"field":"b"},
"y":{"field":"q","type":"quantitative","scale":{"domain":[-300,40660],"nice":false,"zero":false},"axis":{"orient":"right","title":"Volume","titleFontSize":14,"titleFontWeight":"bold","titleAngle":270,"titleX":48,"titleY":318,"titleBaseline":"middle","values":[0,5000,10000,15000,20000,25000,30000,35000,40000],"format":"~s","grid":false,"domain":false,"ticks":false,"labelFontSize":12,"labelPadding":5}}}},
{"data":{"name":"zero"},"mark":{"type":"rule","color":"#ffffff","strokeWidth":2},
"encoding":{"x":{"field":"a","type":"temporal"},"x2":{"field":"b"},"y":{"field":"q","type":"quantitative","scale":{"domain":[-300,40660],"nice":false,"zero":false},"axis":null}}},
{"data":{"name":"bars"},"mark":{"type":"bar","size":1.6,"opacity":0.22},
"encoding":{"x":{"field":"t","type":"temporal"},"y":{"field":"v","type":"quantitative","scale":{"domain":[-300,40660],"nice":false,"zero":false},"axis":null},"color":{"field":"s","type":"nominal","scale":{"domain":["u","d"],"range":["#ff0000","#0000ff"]},"legend":null}}},
{"data":{"name":"bars"},"mark":{"type":"rule","strokeWidth":1.6},
"encoding":{"x":{"field":"t","type":"temporal"},"y":{"field":"l","type":"quantitative","scale":{"domain":[11030,12270],"nice":false,"zero":false},"axis":null},"y2":{"field":"h"},"color":{"field":"s","type":"nominal","scale":{"domain":["u","d"],"range":["#ff0000","#0000ff"]},"legend":null}}},
{"data":{"name":"bars"},"mark":{"type":"bar","size":1.0,"strokeWidth":1.6},
"encoding":{"x":{"field":"t","type":"temporal"},"y":{"field":"o","type":"quantitative","scale":{"domain":[11030,12270],"nice":false,"zero":false},"axis":null},"y2":{"field":"c"},"color":{"field":"s","type":"nominal","scale":{"domain":["u","d"],"range":["#ff0000","#0000ff"]},"legend":null},"stroke":{"field":"s","type":"nominal","scale":{"domain":["u","d"],"range":["#ff0000","#0000ff"]},"legend":null}}}
]},
{"width":826,"height":120,
"resolve":{"scale":{"y":"independent"},"axis":{"y":"independent"}},
"layer":[
{"data":{"name":"panel"},"mark":{"type":"rect","color":"#e5ecf6"},
"encoding":{"x":{"field":"a","type":"temporal","scale":{"padding":0,"domain":[{"year":2022,"month":6,"date":29,"hours":8,"minutes":57,"seconds":37},{"year":2022,"month":6,"date":29,"hours":15,"minutes":31}]},"axis":null},"x2":{"field":"b"},"y":{"field":"y0","type":"quantitative","scale":{"domain":[0,120]},"axis":null},"y2":{"field":"y1"}}},
{"data":{"name":"bars"},"mark":{"type":"bar","size":1.6,"opacity":0.22},
"encoding":{"x":{"field":"t","type":"temporal"},"y":{"field":"v","type":"quantitative","scale":{"domain":[-300,40660],"nice":false,"zero":false},"axis":null},"color":{"field":"s","type":"nominal","scale":{"domain":["u","d"],"range":["#ff0000","#0000ff"]},"legend":null}}},
{"data":{"name":"bars"},"mark":{"type":"rule","strokeWidth":1.6},
"encoding":{"x":{"field":"t","type":"temporal"},"y":{"field":"l","type":"quantitative","scale":{"domain":[11030,12270],"nice":false,"zero":false},"axis":null},"y2":{"field":"h"},"color":{"field":"s","type":"nominal","scale":{"domain":["u","d"],"range":["#ff0000","#0000ff"]},"legend":null}}},
{"data":{"name":"bars"},"mark":{"type":"bar","size":1.0,"strokeWidth":1.6},
"encoding":{"x":{"field":"t","type":"temporal"},"y":{"field":"o","type":"quantitative","scale":{"domain":[11030,12270],"nice":false,"zero":false},"axis":null},"y2":{"field":"c"},"color":{"field":"s","type":"nominal","scale":{"domain":["u","d"],"range":["#ff0000","#0000ff"]},"legend":null},"stroke":{"field":"s","type":"nominal","scale":{"domain":["u","d"],"range":["#ff0000","#0000ff"]},"legend":null}}},
{"data":{"name":"grips"},"mark":{"type":"rect","fill":"#ffffff","stroke":"#444444","strokeWidth":1.5},
"encoding":{"x":{"field":"a","type":"temporal"},"x2":{"field":"b"},"y":{"field":"y0","type":"quantitative","scale":{"domain":[0,120]},"axis":null},"y2":{"field":"y1"}}}
]}
]}
